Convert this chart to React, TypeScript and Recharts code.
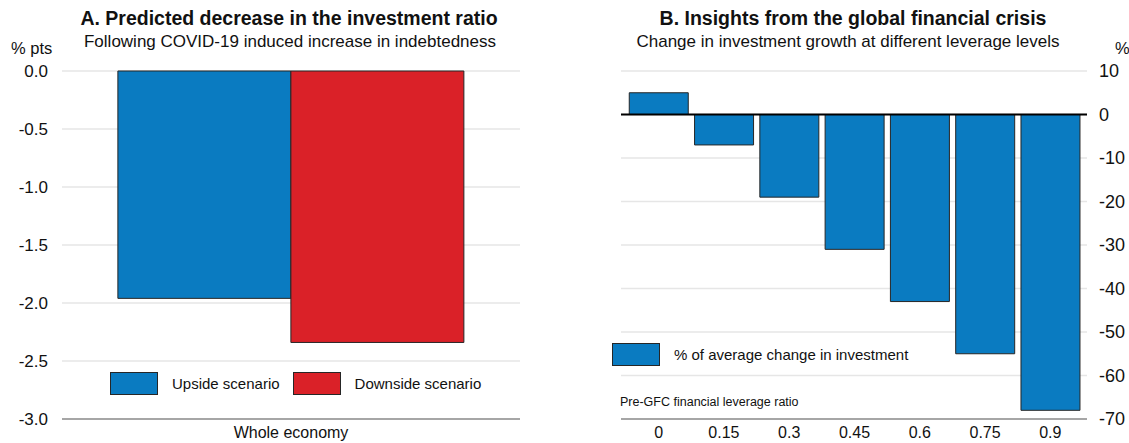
import {
  Bar,
  BarChart,
  CartesianGrid,
  Legend,
  ReferenceLine,
  XAxis,
  YAxis,
} from "recharts";

const FONT = '"Liberation Sans", Arial, sans-serif';

// Panel A
const sectors = ["Whole economy"];
const upsideValues = [-1.96];
const downsideValues = [-2.34];
const ticksA = [0, -0.5, -1, -1.5, -2, -2.5, -3];
const seriesA = ["Upside scenario", "Downside scenario"];

// Panel B
const leverageLevels = ["0", "0.15", "0.3", "0.45", "0.6", "0.75", "0.9"];
const investmentChange = [5, -7, -19, -31, -43, -55, -68];
const ticksB = [10, 0, -10, -20, -30, -40, -50, -60, -70];

const dataA = sectors.map((s, i) => ({
  sector: s,
  upside: upsideValues[i],
  downside: downsideValues[i],
}));

const dataB = leverageLevels.map((l, i) => ({
  level: l,
  change: investmentChange[i],
}));

const BLUE = "#0A7BC1";
const RED = "#DA2128";
const EDGE = "#262626";

function LegendBoxes(props: any) {
  const items = [...(props.payload || [])].sort(
    (a: any, b: any) => seriesA.indexOf(a.value) - seriesA.indexOf(b.value)
  );
  return (
    <div style={{ display: "flex", alignItems: "center", fontFamily: FONT, fontSize: 15, color: "#111" }}>
      {items.map((p: any, i: number) => (
        <div key={`leg-${i}`} style={{ display: "flex", alignItems: "center", marginRight: 13 }}>
          <div
            style={{
              width: 46,
              height: 21,
              background: p.color,
              border: `1px solid ${EDGE}`,
              marginRight: 14,
            }}
          />
          <span>{p.value}</span>
        </div>
      ))}
    </div>
  );
}

function PanelA() {
  return (
    <BarChart
      width={560}
      height={443}
      data={dataA}
      margin={{ top: 71, right: 40, bottom: 0, left: 0 }}
      barGap={0}
      barCategoryGap="12.2%"
    >
      <CartesianGrid vertical={false} stroke="#e6e6e6" strokeWidth={1.5} />
      <XAxis
        dataKey="sector"
        height={24}
        tickLine={false}
        axisLine={{ stroke: "#a6a6a6", strokeWidth: 2 }}
        tick={{ fill: "#111", fontSize: 16, fontFamily: FONT }}
      />
      <YAxis
        width={62}
        domain={[-3, 0]}
        ticks={ticksA}
        tickFormatter={(v: number) => v.toFixed(1)}
        axisLine={false}
        tickLine={false}
        tickMargin={8}
        tick={{ fill: "#111", fontSize: 17, fontFamily: FONT }}
      />
      <Legend
        verticalAlign="middle"
        align="center"
        content={<LegendBoxes />}
        wrapperStyle={{ top: 372, left: 110, width: "auto", bottom: "auto" }}
      />
      <Bar dataKey="upside" name="Upside scenario" fill={BLUE} stroke={EDGE} strokeWidth={1} isAnimationActive={false} />
      <Bar dataKey="downside" name="Downside scenario" fill={RED} stroke={EDGE} strokeWidth={1} isAnimationActive={false} />
    </BarChart>
  );
}

function PanelB() {
  return (
    <BarChart
      width={569}
      height={443}
      data={dataB}
      margin={{ top: 71, right: 0, bottom: 0, left: 61 }}
      barCategoryGap="5%"
    >
      <CartesianGrid vertical={false} stroke="#e6e6e6" strokeWidth={1.5} />
      <XAxis
        dataKey="level"
        height={24}
        padding={{ left: 5, right: 4 }}
        tickLine={false}
        axisLine={{ stroke: "#a6a6a6", strokeWidth: 2 }}
        tick={{ fill: "#111", fontSize: 16, fontFamily: FONT }}
      />
      <YAxis
        orientation="right"
        width={42}
        domain={[-70, 10]}
        ticks={ticksB}
        axisLine={false}
        tickLine={false}
        tickMargin={6}
        tick={{ fill: "#111", fontSize: 18, fontFamily: FONT, textAnchor: "start" }}
      />
      <ReferenceLine y={0} stroke="#000" strokeWidth={2} />
      <Legend
        verticalAlign="middle"
        align="center"
        content={<LegendBoxes />}
        wrapperStyle={{ top: 343, left: 52, width: "auto", bottom: "auto" }}
      />
      <Bar dataKey="change" name="% of average change in investment" fill={BLUE} stroke={EDGE} strokeWidth={1} isAnimationActive={false} />
    </BarChart>
  );
}

const abs = (left: number, top: number, extra: any = {}) => ({
  position: "absolute" as const,
  left,
  top,
  fontFamily: FONT,
  color: "#111",
  whiteSpace: "nowrap" as const,
  ...extra,
});

export default function App() {
  return (
    <div style={{ position: "absolute", left: 0, top: 0, width: 1129, height: 443, background: "#fff", overflow: "hidden" }}>
      <div style={{ position: "absolute", left: 0, top: 0 }}>
        <PanelA />
      </div>
      <div style={{ position: "absolute", left: 560, top: 0 }}>
        <PanelB />
      </div>
      <div style={abs(0, 7, { width: 578, textAlign: "center", fontSize: 19.5, fontWeight: "bold" })}>
        A. Predicted decrease in the investment ratio
      </div>
      <div style={abs(0, 32, { width: 580, textAlign: "center", fontSize: 17 })}>
        Following COVID-19 induced increase in indebtedness
      </div>
      <div style={abs(11, 39, { fontSize: 16.5 })}>% pts</div>
      <div style={abs(560, 7, { width: 586, textAlign: "center", fontSize: 19.5, fontWeight: "bold" })}>
        B. Insights from the global financial crisis
      </div>
      <div style={abs(560, 32, { width: 576, textAlign: "center", fontSize: 17 })}>
        Change in investment growth at different leverage levels
      </div>
      <div style={abs(1115, 39, { fontSize: 16.5 })}>%</div>
      <div style={abs(620, 395, { fontSize: 12.5 })}>Pre-GFC financial leverage ratio</div>
    </div>
  );
}
